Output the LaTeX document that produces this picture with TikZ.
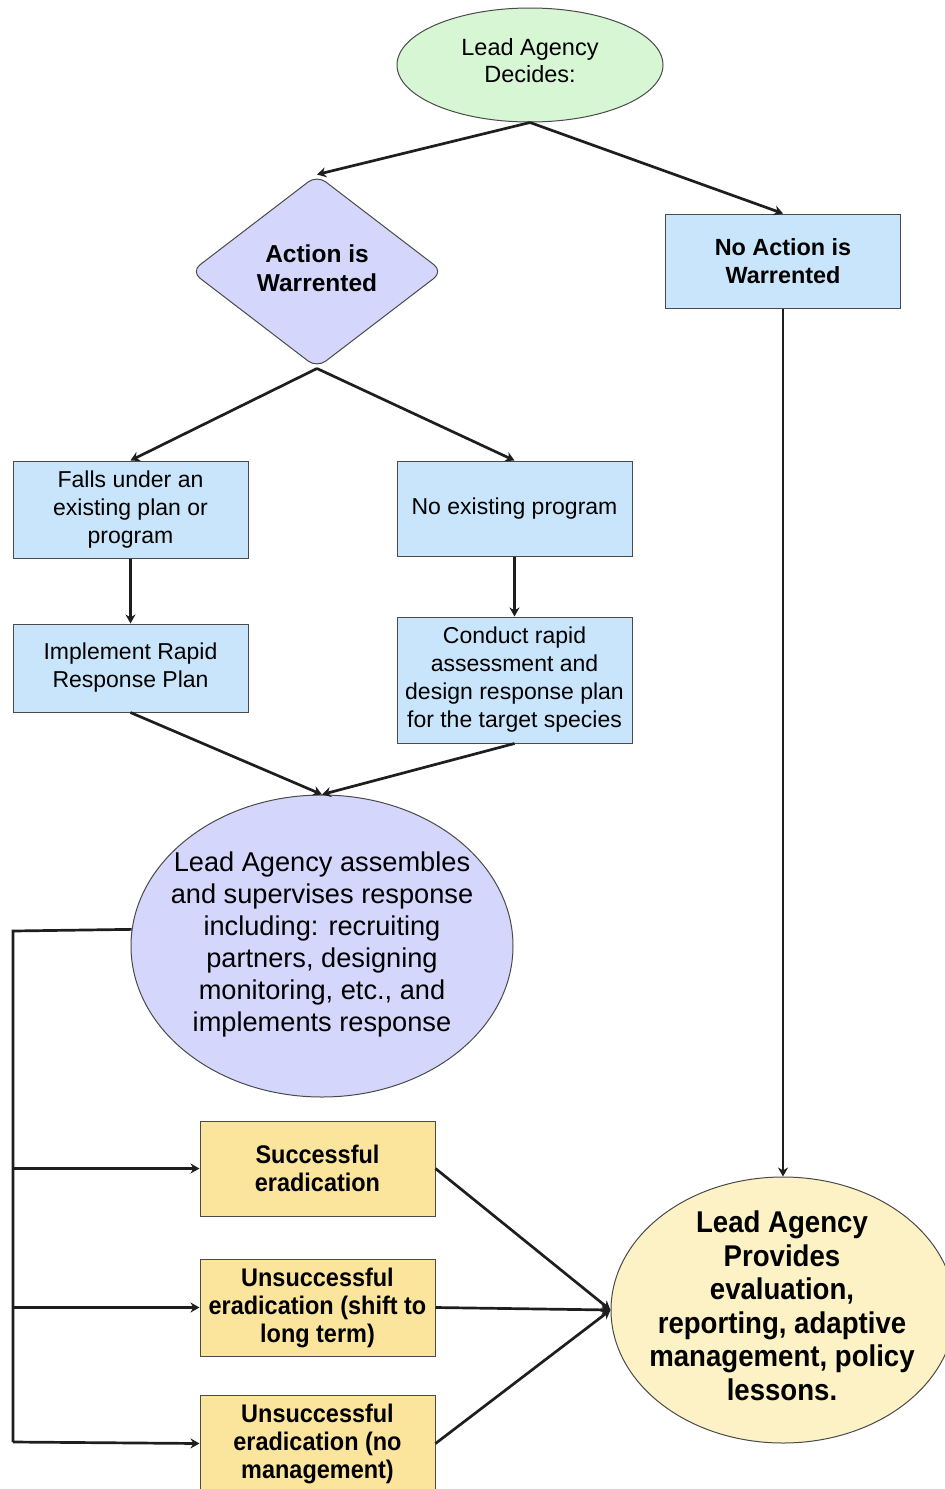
\documentclass[tikz,border=0pt]{standalone}
\usepackage{fontspec}
\setmainfont{Liberation Sans}
\newfontfamily\narrowbold[FakeStretch=0.92]{Liberation Sans}
\usetikzlibrary{shapes.geometric,arrows.meta}
\definecolor{cgreen}{HTML}{D6F6D4}
\definecolor{clav}{HTML}{D4D7FB}
\definecolor{cblue}{HTML}{C8E5FB}
\definecolor{cyel}{HTML}{FBE59C}
\definecolor{cyel2}{HTML}{FCF2C5}
\definecolor{cbord}{HTML}{4A4A4A}
\definecolor{cline}{HTML}{1E1E1E}
\tikzset{
  arr/.style={draw=cline,line width=2.7pt,-{Stealth[length=9pt,width=10pt]}},
  ln/.style={draw=cline,line width=2.7pt},
  shp/.style={draw=cbord,line width=1pt,inner sep=0pt},
  txt/.style={inner sep=0pt,align=center},
  bluebox/.style={shp,fill=cblue,minimum width=235pt,align=center,font=\fontsize{23}{28}\selectfont},
  yelbox/.style={shp,fill=cyel,minimum width=235pt,align=center,font=\narrowbold\bfseries\fontsize{25.5}{28}\selectfont},
}
\begin{document}
\begin{tikzpicture}[x=1pt,y=-1pt]
\useasboundingbox (0,0) rectangle (945,1489);
\node[ellipse,shp,fill=cgreen,minimum width=266pt,minimum height=114pt] (top) at (530,65) {};
\node[txt,font=\fontsize{23.5}{27}\selectfont] (toptxt) at (530,61) {Lead Agency\\Decides:};
\node[diamond,shp,rounded corners=11pt,fill=clav,minimum width=252pt,minimum height=193pt] (dia) at (317,271.5) {};
\node[txt,font=\bfseries\fontsize{24.5}{29}\selectfont] (diatxt) at (317,268) {Action is\\Warrented};
\node[bluebox,minimum height=94pt,font=\bfseries\fontsize{23.4}{28}\selectfont] (noact) at (783,261) {No Action is\\Warrented};
\node[bluebox,minimum height=97pt] (falls) at (130.5,509.5) {Falls under an\\existing plan or\\program};
\node[bluebox,minimum height=95pt] (noex) at (514.5,508.5) {No existing program};
\node[bluebox,minimum height=88pt] (impl) at (130.5,668) {Implement Rapid\\Response Plan};
\node[bluebox,minimum height=126pt] (cond) at (514.5,680) {Conduct rapid\\assessment and\\design response plan\\for the target species};
\node[ellipse,shp,fill=clav,minimum width=382pt,minimum height=302pt] (ell1) at (322,946) {};
\node[txt,font=\fontsize{27.2}{32}\selectfont] (ell1txt) at (322,944) {Lead Agency assembles\\and supervises response\\including: recruiting\\partners, designing\\monitoring, etc., and\\implements response};
\node[yelbox,minimum height=95pt] (s1) at (317.5,1168.5) {Successful\\eradication};
\node[yelbox,minimum height=97pt] (s2) at (317.5,1307.5) {Unsuccessful\\eradication (shift to\\long term)};
\node[yelbox,minimum height=97pt] (s3) at (317.5,1443.5) {Unsuccessful\\eradication (no\\management)};
\node[ellipse,shp,fill=cyel2,minimum width=344pt,minimum height=266pt] (ell2) at (783,1310) {};
\node[txt,font=\narrowbold\bfseries\fontsize{30}{33.5}\selectfont] (ell2txt) at (782,1306) {Lead Agency\\Provides\\evaluation,\\reporting, adaptive\\management, policy\\lessons.};
% connectors
\draw[arr] (top.south) -- (dia.north);
\draw[arr] (top.south) -- (noact.north);
\draw[arr] (dia.south) -- (falls.north);
\draw[arr] (dia.south) -- (noex.north);
\draw[arr] (falls.south) -- (impl.north);
\draw[arr] (noex.south) -- (cond.north);
\draw[arr] (impl.south) -- (ell1.north);
\draw[arr] (cond.south) -- (ell1.north);
\draw[arr] (noact.south) -- (ell2.north);
\coordinate (tt) at (13,931);
\coordinate (tb) at (13,1442);
\draw[ln,line join=miter] (ell1.175.5) -- (tt) -- (tb);
\draw[arr] (tt |- s1.west) -- (s1.west);
\draw[arr] (tt |- s2.west) -- (s2.west);
\draw[arr] (tb) -- (s3.west);
\draw[arr] (s1.east) -- (ell2.west);
\draw[arr] (s2.east) -- (ell2.west);
\draw[arr] (s3.east) -- (ell2.west);
\end{tikzpicture}
\end{document}
